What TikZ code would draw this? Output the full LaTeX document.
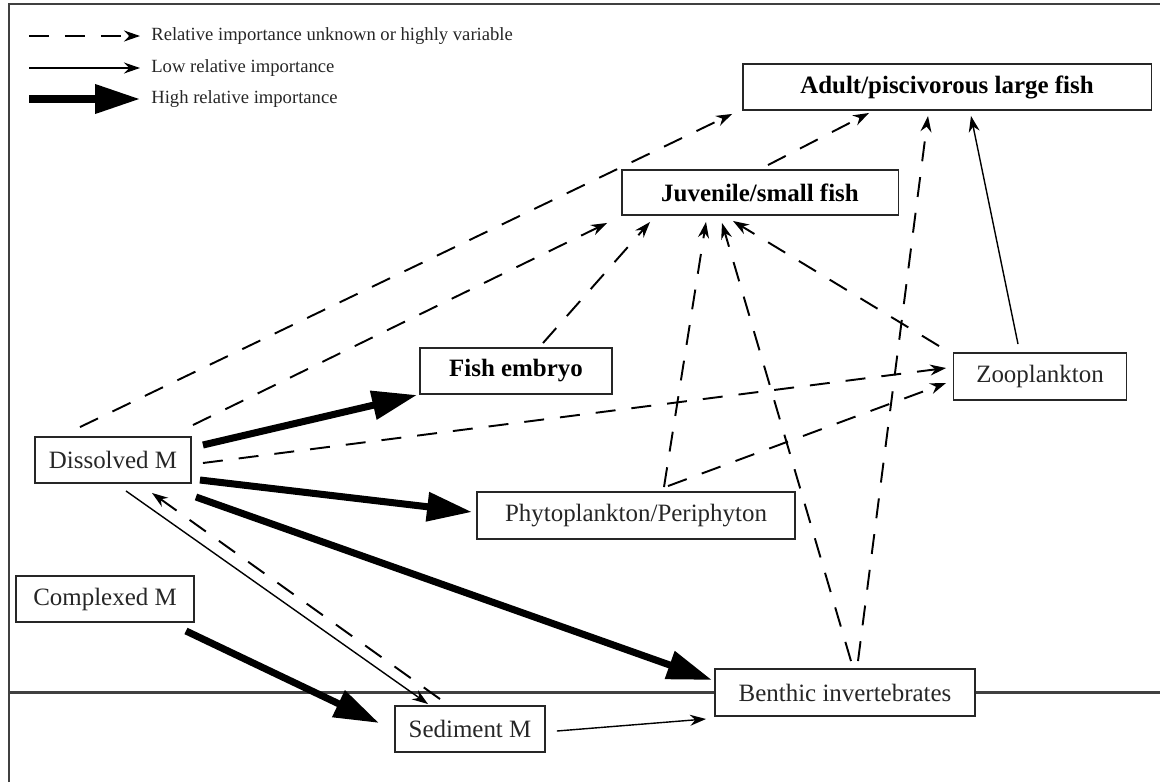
\documentclass[tikz,border=0pt]{standalone}
\usepackage{fontspec}
\setmainfont{Liberation Serif}
\usetikzlibrary{arrows.meta}
\newcommand{\pxUnit}[0]{0.02cm}
\newcommand{\boxFont}[0]{\fontsize{14.2}{17}\selectfont}

\begin{document}
\begin{tikzpicture}[x=\pxUnit, y=-\pxUnit]
  \tikzset{every node/.style={font=\boxFont, text=black!85},
    box/.style={draw=black!85, line width=1.1pt, fill=white, inner sep=0pt, minimum height=0.92cm},
    fish/.style={box, font=\boxFont\bfseries, text=black},
    unknown/.style={-{Stealth[length=0.32cm,width=0.22cm]}, line width=1.1pt, dash pattern=on 0.4cm off 0.32cm},
    low/.style={-{Stealth[length=0.32cm,width=0.22cm]}, line width=0.8pt},
    high/.style={-{Triangle[length=0.9cm,width=0.56cm]}, line width=4pt},
    key/.style={font=\fontsize{10.6}{12}\selectfont, anchor=west, inner xsep=0.22cm, inner ysep=1pt}}
  \useasboundingbox (0,0) rectangle (1160,782);
  \draw[line width=1.1pt, black!75] (9,782) -- (9,4) -- (1160,4);

  \node[key] (keyUnknown) at (140,36) {Relative importance unknown or highly variable};
  \node[key] (keyLow) at (140,68) {Low relative importance};
  \node[key] (keyHigh) at (140,99) {High relative importance};
  \coordinate (startUnknown) at (29,36);
  \coordinate (startLow) at (29,68);
  \coordinate (startHigh) at (29,99);
  \draw[unknown] (startUnknown) -- (keyUnknown.west);
  \draw[low] (startLow) -- (keyLow.west);
  \draw[high] (startHigh) -- (keyHigh.west);

  \node[fish, minimum width=8.18cm] (adult) at (947,87) {Adult/piscivorous large fish};
  \node[fish, minimum width=5.54cm, minimum height=0.9cm] (juv) at (760,192.5) {Juvenile/small fish};
  \node[fish, minimum width=3.84cm] (embryo) at (516,371) {Fish embryo};
  \node[box, minimum width=3.46cm, minimum height=0.94cm] (zoo) at (1040,376.5) {Zooplankton};
  \node[box, minimum width=3.12cm] (diss) at (113,460) {Dissolved M};
  \node[box, minimum width=6.36cm, minimum height=0.94cm] (phyto) at (636,515.5) {Phytoplankton/Periphyton};
  \node[box, minimum width=3.56cm] (compl) at (105,599) {Complexed M};
  \node[box, minimum width=5.2cm, minimum height=0.94cm] (benth) at (845,692.5) {Benthic invertebrates};
  \node[box, minimum width=3cm] (sed) at (470,729) {Sediment M};

  \draw[line width=1.3pt, black!75] (benth.west) -- (9,692.5);
  \draw[line width=1.3pt, black!75] (benth.east) -- (1160,692.5);

  \draw[unknown] ([xshift=-0.66cm,yshift=0.18cm]diss.north) -- ([xshift=-0.19cm,yshift=-0.06cm]adult.south west);
  \draw[unknown] ([xshift=0.02cm,yshift=0.22cm]diss.north east) -- ([xshift=-0.27cm,yshift=-0.14cm]juv.south west);
  \draw[unknown] ([xshift=0.22cm,yshift=-0.06cm]diss.east) -- ([xshift=-0.13cm,yshift=0.17cm]zoo.west);
  \draw[unknown] ([xshift=-0.6cm,yshift=0.12cm]sed.north) -- ([xshift=0.78cm,yshift=-0.18cm]diss.south);
  \draw[unknown] ([xshift=0.54cm,yshift=0.08cm]embryo.north) -- ([xshift=-2.2cm,yshift=-0.12cm]juv.south);
  \draw[unknown] ([xshift=0.56cm,yshift=0.08cm]phyto.north) -- ([xshift=-1.08cm,yshift=-0.12cm]juv.south);
  \draw[unknown] ([xshift=0.64cm,yshift=0.1cm]phyto.north) -- ([xshift=-0.13cm,yshift=-0.13cm]zoo.west);
  \draw[unknown] ([xshift=0.12cm,yshift=0.14cm]benth.north) -- ([xshift=-0.76cm,yshift=-0.14cm]juv.south);
  \draw[unknown] ([xshift=0.26cm,yshift=0.14cm]benth.north) -- ([xshift=-0.38cm,yshift=-0.1cm]adult.south);
  \draw[unknown] ([xshift=-0.27cm,yshift=0.12cm]zoo.north west) -- ([xshift=-0.54cm,yshift=-0.1cm]juv.south);
  \draw[unknown] ([xshift=0.16cm,yshift=0.08cm]juv.north) -- ([xshift=-1.56cm,yshift=-0.04cm]adult.south);

  \draw[low] ([xshift=0.26cm,yshift=-0.14cm]diss.south) -- ([xshift=-0.84cm,yshift=0.02cm]sed.north);
  \draw[low] ([xshift=0.22cm,yshift=-0.04cm]sed.east) -- ([xshift=-0.16cm,yshift=-0.04cm]benth.south west);
  \draw[low] ([xshift=-0.44cm,yshift=0.16cm]zoo.north) -- ([xshift=0.48cm,yshift=-0.1cm]adult.south);

  \draw[high] ([xshift=0.22cm,yshift=0.3cm]diss.east) -- ([xshift=-0.04cm]embryo.south west);
  \draw[high] ([xshift=0.16cm,yshift=-0.4cm]diss.east) -- ([xshift=-0.08cm,yshift=0.07cm]phyto.west);
  \draw[high] ([xshift=0.08cm,yshift=-0.74cm]diss.east) -- ([xshift=-0.04cm,yshift=0.25cm]benth.west);
  \draw[high] ([xshift=-0.18cm,yshift=-0.16cm]compl.south east) -- ([xshift=-0.3cm,yshift=0.12cm]sed.west);
\end{tikzpicture}
\end{document}
